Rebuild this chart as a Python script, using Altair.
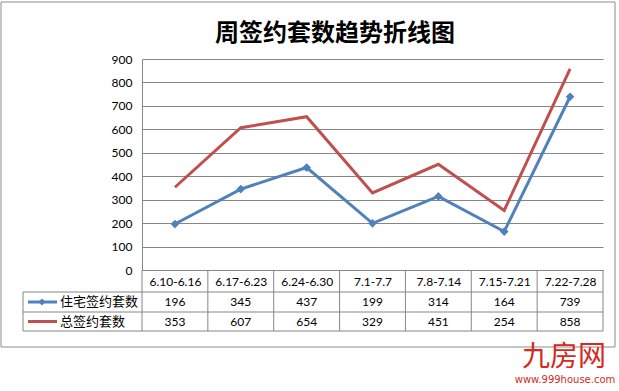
import json
import altair as alt
import pandas as pd

# ---- data ----
categories = ["6.10-6.16", "6.17-6.23", "6.24-6.30", "7.1-7.7", "7.8-7.14", "7.15-7.21", "7.22-7.28"]
residential = [196, 345, 437, 199, 314, 164, 739]
total = [353, 607, 654, 329, 451, 254, 858]
series_names = ["住宅签约套数", "总签约套数"]
y_ticks = [0, 100, 200, 300, 400, 500, 600, 700, 800, 900]
title_text = "周签约套数趋势折线图"
wm_main = "九房网"
wm_sub = "www.999house.com"

# ---- styles ----
BLUE = "#4F81BD"
RED = "#C0504D"
GRID = "#868686"
FRAME = "#8C8C8C"
WM_RED = "#D42A22"
LAT = "Lato"
CJK = "Noto Sans CJK SC"
W, H = 461, 211

rows = []
for i, c in enumerate(categories):
    rows.append({"pos": i + 0.5, "cat": c, "value": residential[i], "series": series_names[0]})
    rows.append({"pos": i + 0.5, "cat": c, "value": total[i], "series": series_names[1]})
df = pd.DataFrame(rows)
bounds = pd.DataFrame({"b": list(range(len(categories) + 1))})
one = pd.DataFrame({"a": [0]})

x_scale = alt.Scale(domain=[0, len(categories)], nice=False, zero=False)
y_scale = alt.Scale(domain=[0, 900], nice=False, zero=True)
color_scale = alt.Scale(domain=series_names, range=[BLUE, RED])

label_expr = json.dumps(categories) + "[floor(datum.value)]"

x_axis = alt.Axis(
    values=[i + 0.5 for i in range(len(categories))], labelExpr=label_expr,
    title=None, ticks=False, grid=False, domainColor=GRID, labelFont=LAT,
    labelFontSize=12, labelColor="black", labelPadding=11, labelBaseline="middle",
    labelOverlap=False, labelFlush=False)
y_axis = alt.Axis(
    values=y_ticks, title=None, ticks=False, grid=True, gridColor=GRID,
    gridOpacity=1, domainColor=GRID, labelFont=LAT, labelFontSize=12,
    labelColor="black", labelPadding=10, labelOverlap=False, labelFlush=False)

X = alt.X("pos:Q", scale=x_scale, axis=x_axis)
Y = alt.Y("value:Q", scale=y_scale, axis=y_axis)

frame = alt.Chart(one).mark_rect(fillOpacity=0, stroke=FRAME, strokeWidth=1).encode(
    x=alt.value(-141), x2=alt.value(473), y=alt.value(-57), y2=alt.value(288)
)

lines = alt.Chart(df).mark_line(strokeWidth=3).encode(
    x=X, y=Y,
    color=alt.Color("series:N", scale=color_scale, legend=None),
    detail="series:N",
)

points = alt.Chart(df).transform_filter(
    alt.FieldEqualPredicate(field="series", equal=series_names[0])
).mark_point(shape="diamond", filled=True, size=75, opacity=1, color=BLUE).encode(
    x=X, y=Y
)

# table grid
vlines = alt.Chart(bounds).mark_rule(color=GRID, strokeWidth=1).encode(
    x=alt.X("b:Q", scale=x_scale, axis=x_axis), y=alt.value(H), y2=alt.value(272)
)
legend_left = alt.Chart(one).mark_rule(color=GRID, strokeWidth=1).encode(
    x=alt.value(-119), y=alt.value(233), y2=alt.value(272)
)
hlines = [
    alt.Chart(one).mark_rule(color=GRID, strokeWidth=1).encode(
        x=alt.value(-119), x2=alt.value(W), y=alt.value(yy))
    for yy in (233, 253, 272)
]

row_y = [243, 262.5]
cell_texts = [
    alt.Chart(df).transform_filter(
        alt.FieldEqualPredicate(field="series", equal=s)
    ).mark_text(font=LAT, fontSize=12, color="black", baseline="middle").encode(
        x=X, y=alt.value(ry), text="value:Q")
    for s, ry in zip(series_names, row_y)
]

legend_lines = [
    alt.Chart(one).mark_rule(color=col, strokeWidth=3).encode(
        x=alt.value(-114), x2=alt.value(-85), y=alt.value(ry))
    for col, ry in zip([BLUE, RED], row_y)
]
legend_marker = alt.Chart(one).mark_point(shape="diamond", filled=True, size=50, opacity=1, color=BLUE).encode(
    x=alt.value(-100), y=alt.value(row_y[0])
)
legend_texts = [
    alt.Chart(one).mark_text(text=s, font=CJK, fontSize=13, color="black", align="left", baseline="middle").encode(
        x=alt.value(-82), y=alt.value(ry))
    for s, ry in zip(series_names, row_y)
]

title = alt.Chart(one).mark_text(text=title_text, font=CJK, fontSize=24, fontWeight="bold",
                                 color="black", align="center", baseline="middle").encode(
    x=alt.value(193), y=alt.value(-25)
)

wm1 = alt.Chart(one).mark_text(text=wm_main, font=CJK, fontSize=28, color=WM_RED,
                               align="center", baseline="middle").encode(
    x=alt.value(422), y=alt.value(299)
)
wm2 = alt.Chart(one).mark_text(text=wm_sub, font="DejaVu Sans", fontSize=10, color=WM_RED,
                               align="center", baseline="middle").encode(
    x=alt.value(423), y=alt.value(321)
)

chart = alt.layer(
    frame, vlines, legend_left, *hlines, lines, points, *cell_texts,
    *legend_lines, legend_marker, *legend_texts, title, wm1, wm2
).properties(
    width=W, height=H,
    autosize=alt.AutoSizeParams(type="none"),
    padding={"left": 142, "top": 59, "right": 16, "bottom": 121},
    background="white",
).configure_view(strokeWidth=0)

chart.save("out.html", embed_options={"renderer": "svg", "actions": False})
